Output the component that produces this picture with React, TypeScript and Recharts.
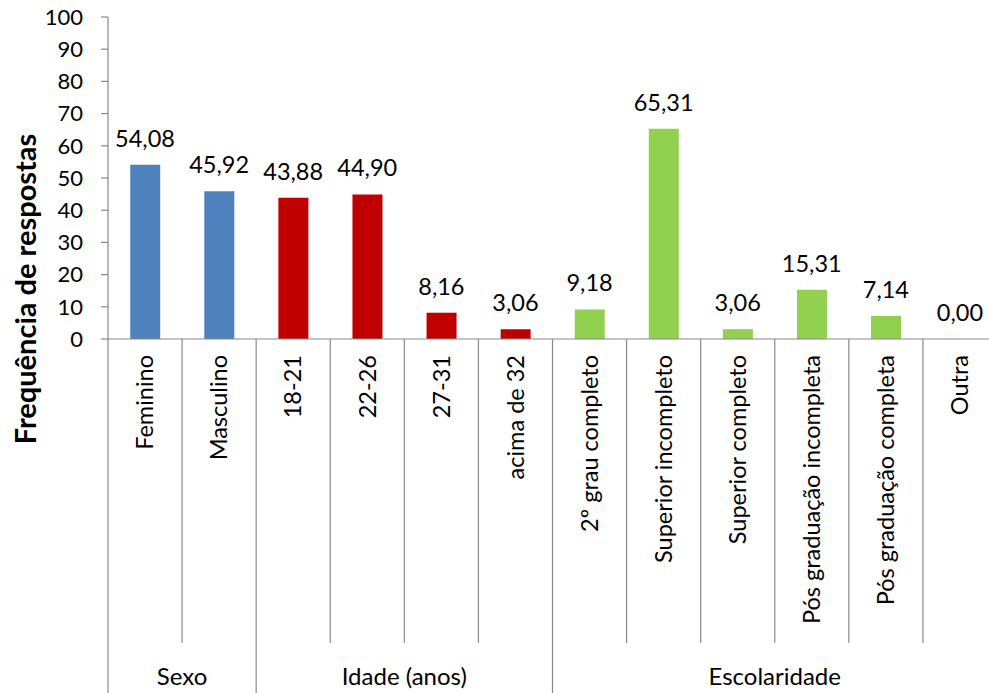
import React from 'react';
import { ComposedChart, Bar, Line, XAxis, YAxis, Cell, LabelList } from 'recharts';

const categories = [
  'Feminino',
  'Masculino',
  '18-21',
  '22-26',
  '27-31',
  'acima de 32',
  '2º grau completo',
  'Superior incompleto',
  'Superior completo',
  'Pós graduação incompleta',
  'Pós graduação completa',
  'Outra',
];
const values = [54.08, 45.92, 43.88, 44.9, 8.16, 3.06, 9.18, 65.31, 3.06, 15.31, 7.14, 0.0];
const groups = [
  'Sexo',
  'Sexo',
  'Idade (anos)',
  'Idade (anos)',
  'Idade (anos)',
  'Idade (anos)',
  'Escolaridade',
  'Escolaridade',
  'Escolaridade',
  'Escolaridade',
  'Escolaridade',
  'Escolaridade',
];
const yTicks = [0, 10, 20, 30, 40, 50, 60, 70, 80, 90, 100];
const yTitle = 'Frequência de respostas';

const groupColors: Record<string, string> = {
  Sexo: '#4F81BD',
  'Idade (anos)': '#C00000',
  Escolaridade: '#92D050',
};

const data = categories.map((c, i) => ({ category: c, value: values[i], group: groups[i] }));

const FONT = 'Lato, "Open Sans", sans-serif';
const AXIS = '#898989';
const CHART_W = 1000;
const CHART_H = 693;
const MARGIN = { top: 17, right: 3, bottom: 0, left: 0 };
const Y_W = 108;
const BAND = (CHART_W - MARGIN.left - MARGIN.right - Y_W) / categories.length;

const CategoryTick = (props: any) => {
  const { x, y, payload } = props;
  const i: number = props.index ?? payload.index;
  const half = BAND / 2;
  const left = x - half;
  const g = groups[i];
  const isGroupStart = i === 0 || groups[i - 1] !== g;
  const isLast = i === categories.length - 1;
  let groupLabel = null;
  if (isGroupStart) {
    const count = groups.filter((v) => v === g).length;
    const center = left + (count * BAND) / 2;
    groupLabel = (
      <text x={center} y={y + 346} textAnchor="middle" fontFamily={FONT} fontSize={24} fill="#000">
        {g}
      </text>
    );
  }
  return (
    <g>
      <line x1={left} x2={left} y1={y} y2={isGroupStart ? y + 420 : y + 304} stroke={AXIS} strokeWidth={1.2} />
      {isLast && <line x1={x + half} x2={x + half} y1={y} y2={y + 420} stroke={AXIS} strokeWidth={1.2} />}
      <text
        x={x}
        y={y + 16}
        dy="0.35em"
        transform={`rotate(-90 ${x} ${y + 16})`}
        textAnchor="end"
        fontFamily={FONT}
        fontSize={23.5}
        fill="#000"
      >
        {payload.value}
      </text>
      {groupLabel}
    </g>
  );
};

const YTitle = () => (
  <text
    x={36}
    y={289}
    transform="rotate(-90 36 289)"
    textAnchor="middle"
    fontFamily={FONT}
    fontWeight="bold"
    fontSize={29}
    fill="#000"
  >
    {yTitle}
  </text>
);

const fmt = (v: any) => Number(v).toFixed(2).replace('.', ',');

export default function App() {
  return (
    <div style={{ position: 'absolute', left: 0, top: 0, width: 989, height: 693, overflow: 'hidden', background: '#fff' }}>
      <ComposedChart width={CHART_W} height={CHART_H} data={data} margin={MARGIN} barCategoryGap="30%">
        <XAxis
          dataKey="category"
          type="category"
          interval={0}
          height={CHART_H - 339}
          tickLine={false}
          tickSize={0}
          tickMargin={0}
          axisLine={{ stroke: AXIS, strokeWidth: 1.2 }}
          tick={<CategoryTick />}
        />
        <YAxis
          type="number"
          domain={[0, 100]}
          ticks={yTicks}
          interval={0}
          width={Y_W}
          tickSize={7}
          tickMargin={18}
          axisLine={{ stroke: AXIS, strokeWidth: 1.2 }}
          tickLine={{ stroke: AXIS, strokeWidth: 1.2 }}
          tick={{ fontFamily: FONT, fontSize: 22, fill: '#000' }}
          label={<YTitle />}
        />
        <Bar dataKey="value" isAnimationActive={false}>
          {data.map((d, i) => (
            <Cell key={i} fill={groupColors[d.group]} />
          ))}
        </Bar>
        <Line
          dataKey="value"
          stroke="none"
          dot={false}
          activeDot={false}
          legendType="none"
          isAnimationActive={false}
        >
          <LabelList
            dataKey="value"
            position="top"
            offset={18}
            formatter={fmt}
            style={{ fontFamily: FONT, fontSize: 23.5, fill: '#000' }}
          />
        </Line>
      </ComposedChart>
    </div>
  );
}
